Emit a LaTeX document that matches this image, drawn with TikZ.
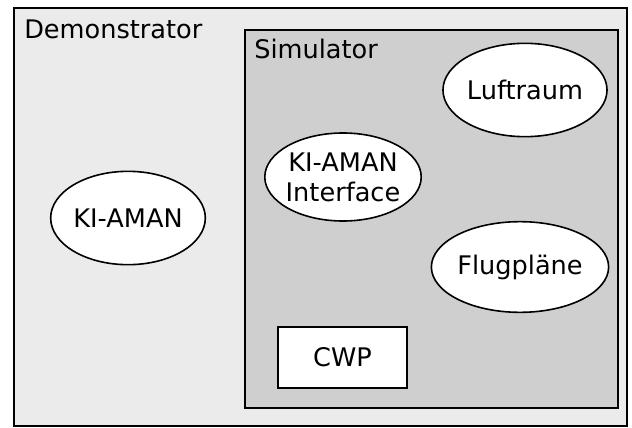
\documentclass[tikz,border=0pt]{standalone}
\usepackage{fontspec}
\setmainfont{DejaVu Sans}
\usetikzlibrary{shapes.geometric}
\definecolor{outerfill}{HTML}{EBEBEB}
\definecolor{innerfill}{HTML}{CFCFCF}
\begin{document}
\begin{tikzpicture}[x=0.75pt,y=-0.75pt,
  every node/.style={font=\fontsize{19.2}{22.5}\selectfont, inner sep=0pt},
  frame/.style={draw=black, line width=1.5pt},
  blob/.style={draw=black, line width=1.2pt, fill=white, ellipse, align=center},
  boxnode/.style={draw=black, line width=1.2pt, fill=white, rectangle},
  caption/.style={anchor=base west}]
\useasboundingbox (0,0) rectangle (632,428);
% Demonstrator frame
\draw[frame, fill=outerfill] (14,8) rectangle (627,426);
\node[caption] (demo) at (24,39) {Demonstrator};
% Simulator frame
\draw[frame, fill=innerfill] (245,30) rectangle (618,408);
\node[caption] (sim) at (254,59) {Simulator};
% Components (sizes in pt: 1 unit = 0.75pt)
\node[blob, minimum width=116pt, minimum height=70pt] (aman) at (128,218) {KI-AMAN};
\node[blob, minimum width=116pt, minimum height=70pt] (luft) at (525,90) {Luftraum};
\node[blob, inner xsep=-1.5pt, minimum width=116pt, minimum height=66pt] (iface) at (343,177) {KI-AMAN\\Interface};
\node[blob, minimum width=116pt, minimum height=68pt] (flug) at (520,267) {Flugpläne};
\node[boxnode, minimum width=96.75pt, minimum height=45.75pt] (cwp) at (342.5,357.5) {CWP};
\end{tikzpicture}
\end{document}
